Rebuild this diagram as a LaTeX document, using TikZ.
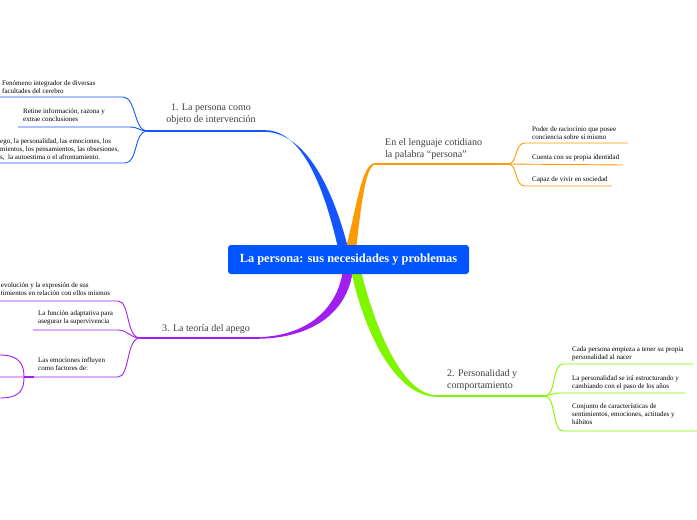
\documentclass[tikz,border=0pt]{standalone}
\usepackage{fontspec}
\setmainfont{Liberation Serif}
\usetikzlibrary{calc}
\pgfdeclarelayer{back}
\pgfsetlayers{back,main}
\definecolor{hubblue}{RGB}{0,85,255}
\definecolor{bluebr}{RGB}{20,85,255}
\definecolor{orangebr}{RGB}{255,153,0}
\definecolor{purplebr}{RGB}{160,30,240}
\definecolor{greenbr}{RGB}{128,245,0}
\tikzset{
  leaf/.style={font=\fontsize{7}{8.3}\selectfont, align=left, inner sep=0pt, anchor=base west, text=black},
  topic/.style={font=\fontsize{10}{11.8}\selectfont, align=left, inner sep=0pt, anchor=base west, text=black!75},
  twig/.style={line width=0.9pt},
  bar/.style={line width=1.5pt},
  hubbox/.style={fill=hubblue, rounded corners=3pt, minimum width=241pt, minimum height=29pt,
    inner sep=0pt, text=white, font=\fontsize{12.4}{14}\selectfont\bfseries}
}

\begin{document}
\begin{tikzpicture}[x=1pt,y=-1pt]
\useasboundingbox (0,0) rectangle (697,520);
\node[hubbox] (hub) at (348.5,259.5) {La persona: sus necesidades y problemas};

\coordinate (bTop) at (265,131);
\coordinate (bFork) at (147,131);
\coordinate (oTop) at (375,164);
\coordinate (oFork) at (508,164);
\coordinate (pTop) at (255,338);
\coordinate (pFork) at (140,338);
\coordinate (gTop) at (437,396);
\coordinate (gFork) at (545,396);

\begin{pgfonlayer}{back}
\fill[bluebr] ($(hub.north)+(-11,1)$) .. controls (321,175) and (298,130.2) .. ($(bTop)+(0,-0.8)$)
  -- ($(bTop)+(0,0.8)$) .. controls (300,132.5) and (329,175) .. ($(hub.north)+(-1,1)$) -- cycle;
\fill[orangebr] ($(hub.north)+(-2,1)$) .. controls (357,205) and (362,163.2) .. ($(oTop)+(0,-0.8)$)
  -- ($(oTop)+(0,0.8)$) .. controls (366,165) and (361,205) .. ($(hub.north)+(8,1)$) -- cycle;
\fill[purplebr] ($(hub.south)+(-6,-1)$) .. controls (335,315) and (300,337.2) .. ($(pTop)+(0,-0.8)$)
  -- ($(pTop)+(0,0.8)$) .. controls (305,339) and (345,318) .. ($(hub.south)+(4,-1)$) -- cycle;
\fill[greenbr] ($(hub.south)+(3,-1)$) .. controls (368,345) and (400,396.8) .. ($(gTop)+(0,0.8)$)
  -- ($(gTop)+(0,-0.8)$) .. controls (405,395) and (378,338) .. ($(hub.south)+(13,-1)$) -- cycle;
\end{pgfonlayer}

\draw[bluebr,bar] (bTop) -- (bFork);
\draw[orangebr,bar] (oTop) -- (oFork);
\draw[purplebr,bar] (pTop) -- (pFork);
\draw[greenbr,bar] (gTop) -- (gFork);

\node[topic, anchor=base, align=center] (t1) at (211,122) {1. La persona como\\objeto de intervención};
\node[topic] (t2) at (385,157) {En el lenguaje cotidiano\\la palabra “persona”};
\node[topic] (t3) at (162,331) {3. La teoría del apego};
\node[topic] (t4) at (447,388) {2. Personalidad y\\comportamiento};

\coordinate (b1) at (123,97);  \coordinate (b1e) at (0,97);
\coordinate (b2) at (130,127); \coordinate (b2e) at (18,127);
\coordinate (b3) at (125,163); \coordinate (b3e) at (0,163);
\draw[bluebr,twig] (bFork) .. controls (134,131) and (136,97) .. (b1) -- (b1e);
\draw[bluebr,twig] (bFork) .. controls (140,131) and (138,127) .. (b2) -- (b2e);
\draw[bluebr,twig] (bFork) .. controls (134,131) and (138,163) .. (b3) -- (b3e);
\node[leaf] (l1) at (2,93.3) {Fenómeno integrador de diversas\\facultades del cerebro};
\node[leaf] (l2) at (23,121.3) {Retine información, razona y\\extrae conclusiones};
\node[leaf] (l3) at (0,159.6) {ego, la personalidad, las emociones, los\\mientos, los pensamientos, las obsesiones,\\s,\ \ la autoestima o el afrontamiento.};

\coordinate (o1) at (525,143); \coordinate (o1e) at (628,143);
\coordinate (o2e) at (623,165);
\coordinate (o3) at (525,186); \coordinate (o3e) at (612,186);
\draw[orangebr,twig] (oFork) .. controls (518,164) and (514,143) .. (o1) -- (o1e);
\draw[orangebr,twig] (oFork) -- (o2e);
\draw[orangebr,twig] (oFork) .. controls (518,164) and (514,186) .. (o3) -- (o3e);
\node[leaf] (l4) at (532,139.3) {Poder de raciocinio que posee\\conciencia sobre sí mismo};
\node[leaf] (l5) at (532,159) {Cuenta con su propia identidad};
\node[leaf] (l6) at (532,181) {Capaz de vivir en sociedad};

\coordinate (p1) at (118,301); \coordinate (p1e) at (0,301);
\coordinate (p2) at (118,330); \coordinate (p2e) at (33,330);
\coordinate (p3) at (118,377); \coordinate (p3e) at (0,377);
\coordinate (pSub) at (24,377);
\coordinate (ps1) at (0,355); \coordinate (ps2) at (0,398);
\draw[purplebr,twig] (pFork) .. controls (126,338) and (130,301) .. (p1) -- (p1e);
\draw[purplebr,twig] (pFork) .. controls (130,338) and (128,330) .. (p2) -- (p2e);
\draw[purplebr,twig] (pFork) .. controls (126,338) and (130,377) .. (p3) -- (p3e);
\draw[purplebr,twig] (ps1) .. controls (20,355) and (24,365) .. (pSub) .. controls (24,390) and (20,398) .. (ps2);
\draw[purplebr,line width=1.8pt] (pSub) -- ++(10,0);
\node[leaf] (l7) at (0.7,295.3) {evolución y la expresión de sus\\timientos en relación con ellos mismos};
\node[leaf] (l8) at (38,323.3) {La función adaptativa para\\asegurar la supervivencia};
\node[leaf] (l9) at (38,370.3) {Las emociones influyen\\como factores de:};

\coordinate (g1) at (563,364); \coordinate (g1e) at (693,364);
\coordinate (g2e) at (685,393);
\coordinate (g3) at (563,431); \coordinate (g3e) at (697,431);
\draw[greenbr,twig] (gFork) .. controls (556,396) and (552,364) .. (g1) -- (g1e);
\draw[greenbr,twig] (gFork) .. controls (552,394) and (556,393) .. (560,393) -- (g2e);
\draw[greenbr,twig] (gFork) .. controls (556,396) and (552,431) .. (g3) -- (g3e);
\node[leaf] (l10) at (572,359.3) {Cada persona empieza a tener su propia\\personalidad al nacer};
\node[leaf] (l11) at (572,388.3) {La personalidad se irá estructurando y\\cambiando con el paso de los años};
\node[leaf] (l12) at (572,424.6) {Conjunto de características de\\sentimientos, emociones, actitudes y\\hábitos};
\end{tikzpicture}
\end{document}
